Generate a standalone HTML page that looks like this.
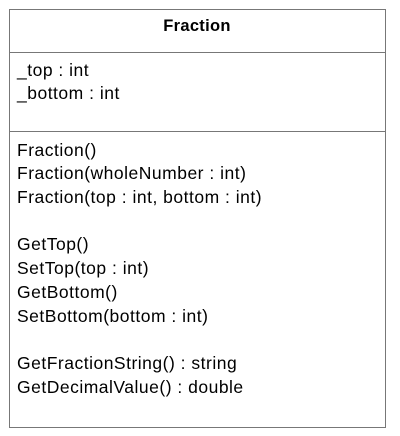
<!DOCTYPE html>
<html><head><style>
body{margin:0;background:#fff;width:400px;height:436px;position:relative;font-family:"Liberation Sans",sans-serif;color:#000}
.box{position:absolute;left:9px;top:9px;width:375px;height:417px;border:1.5px solid #777}
.h{position:absolute;left:9px;top:52px;width:377px;border-top:1.5px solid #777}
.t{position:absolute;left:17px;font-size:17.5px;letter-spacing:0.5px;line-height:20px;white-space:nowrap}
</style></head><body>
<div class="box"></div>
<div class="h"></div>
<div class="h" style="top:131px"></div>
<div class="t" style="left:0;width:394px;text-align:center;top:16px;font-weight:bold;font-size:16.5px;letter-spacing:0.3px">Fraction</div>
<div class="t" style="top:60px">_top : int</div>
<div class="t" style="top:83px">_bottom : int</div>
<div class="t" style="top:140px">Fraction()</div>
<div class="t" style="top:163px">Fraction(wholeNumber : int)</div>
<div class="t" style="top:187px">Fraction(top : int, bottom : int)</div>
<div class="t" style="top:234px">GetTop()</div>
<div class="t" style="top:258px">SetTop(top : int)</div>
<div class="t" style="top:282px">GetBottom()</div>
<div class="t" style="top:306px">SetBottom(bottom : int)</div>
<div class="t" style="top:353px">GetFractionString() : string</div>
<div class="t" style="top:377px">GetDecimalValue() : double</div>
</body></html>
